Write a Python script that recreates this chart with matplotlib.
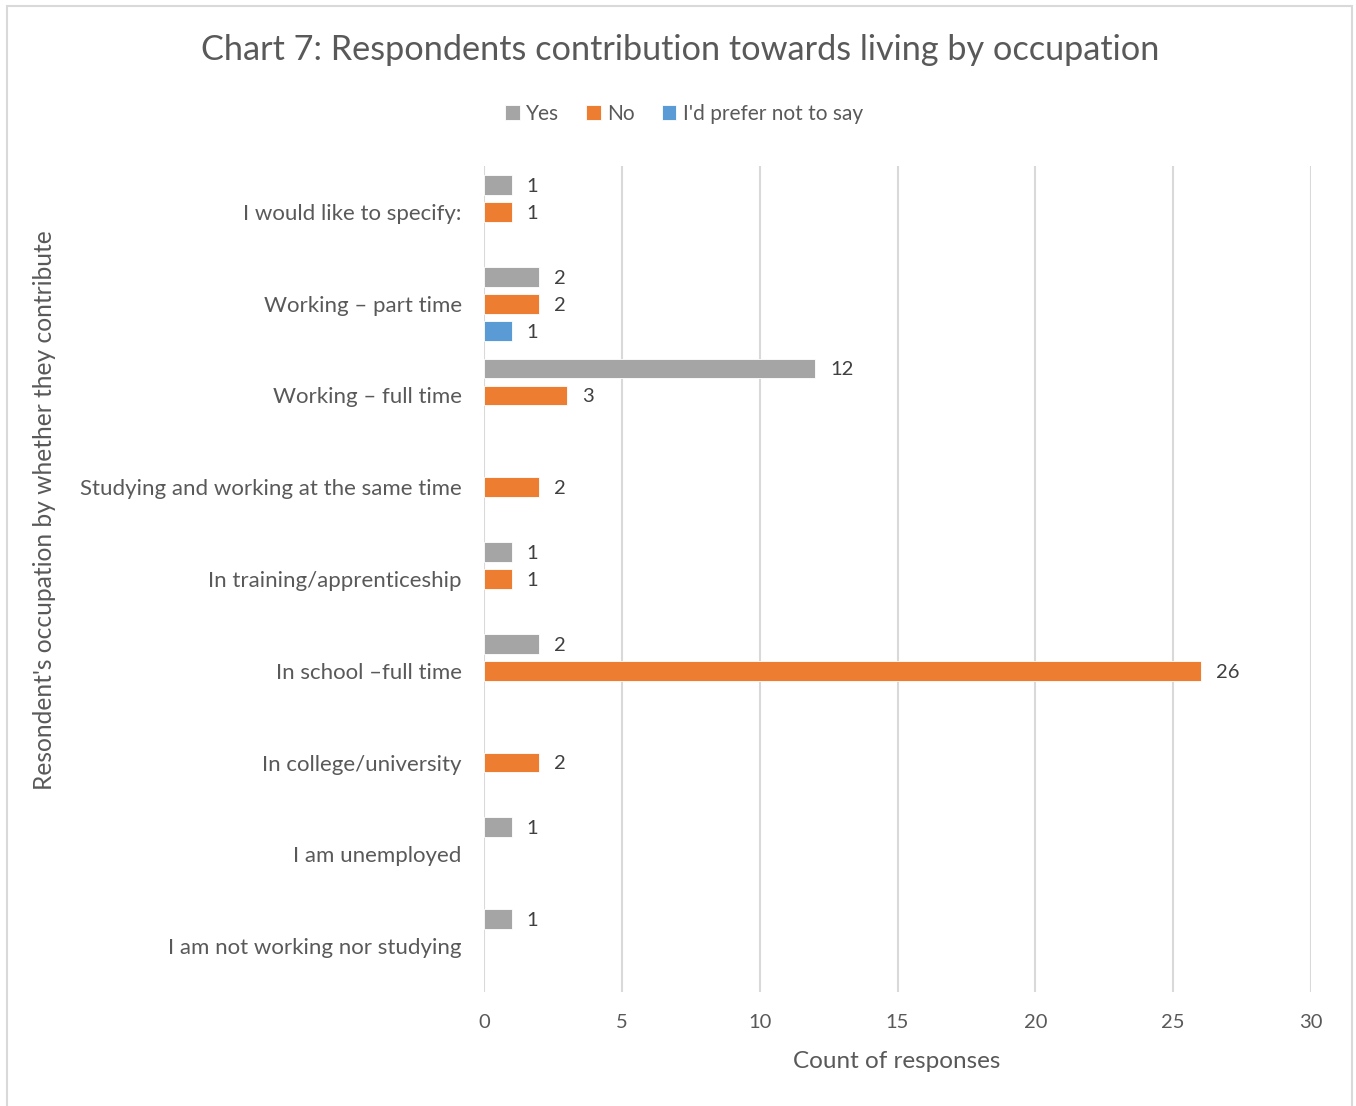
import matplotlib
matplotlib.use("Agg")
import matplotlib.pyplot as plt
from matplotlib.patches import Rectangle
from matplotlib.transforms import offset_copy
import numpy as np

# Categories listed bottom to top
categories = [
    "I am not working nor studying",
    "I am unemployed",
    "In college/university",
    "In school \u2013full time",
    "In training/apprenticeship",
    "Studying and working at the same time",
    "Working \u2013 full time",
    "Working \u2013 part time",
    "I would like to specify:",
]
yes_counts = [1, 1, 0, 2, 1, 0, 12, 2, 1]
no_counts = [0, 0, 2, 26, 1, 2, 3, 2, 1]
prefer_counts = [0, 0, 0, 0, 0, 0, 0, 1, 0]
series_names = ["Yes", "No", "I'd prefer not to say"]
series_colors = ["#A5A5A5", "#ED7D31", "#5B9BD5"]
x_ticks = [0, 5, 10, 15, 20, 25, 30]

plt.rcParams["font.family"] = ["Lato", "DejaVu Sans"]
TEXT = "#595959"

W, H = 1356, 1106
fig = plt.figure(figsize=(W / 100, H / 100), dpi=100)

def fx(px):
    return px / W

def fy(py):
    return 1 - py / H

# outer chart border
fig.patches.append(Rectangle((fx(7), fy(1110)), fx(1352) - fx(7), fy(6) - fy(1110),
                             transform=fig.transFigure, fill=False,
                             edgecolor="#D9D9D9", linewidth=1.5))

ax = fig.add_axes([fx(484), fy(992), fx(1311) - fx(484), fy(166) - fy(992)])

y = np.arange(len(categories))
bar_h = 0.215
offsets = [0.294, 0.0, -0.294]
all_series = [yes_counts, no_counts, prefer_counts]

for vals, off, col, name in zip(all_series, offsets, series_colors, series_names):
    vals = np.array(vals, dtype=float)
    mask = vals > 0
    ax.barh(y[mask] + off, vals[mask], height=bar_h, color=col,
            edgecolor="white", linewidth=0.6, label=name, zorder=3)
    lab_tr = offset_copy(ax.transData, fig=fig, x=11, y=-1, units="points")
    for yi, v in zip(y[mask] + off, vals[mask]):
        ax.text(v, yi, f"{int(v)}", transform=lab_tr, ha="left", va="center",
                fontsize=14.5, color="#404040")

ax.set_xlim(0, 30)
ax.set_ylim(-0.5, len(categories) - 0.5)
ax.set_xticks(x_ticks)
ax.set_xticklabels([str(t) for t in x_ticks], fontsize=14.5, color=TEXT)
ax.set_yticks(y)
ax.set_yticklabels(categories, fontsize=16, color=TEXT)
ax.tick_params(axis="both", length=0)
ax.tick_params(axis="x", pad=16)
ax.tick_params(axis="y", pad=16)
ax.grid(axis="x", color="#D9D9D9", linewidth=1.5, zorder=0)
ax.set_axisbelow(True)
for s in ax.spines.values():
    s.set_visible(False)

fig.text(fx(680), fy(50), "Chart 7: Respondents contribution towards living by occupation",
         ha="center", va="center", fontsize=24.7, color=TEXT)
fig.text(fx(897), fy(1062), "Count of responses", ha="center", va="center",
         fontsize=17.5, color=TEXT)
fig.text(fx(45), fy(510), "Resondent's occupation by whether they contribute",
         ha="center", va="center", rotation=90, fontsize=17.7, color=TEXT)

leg = fig.legend(loc="center", bbox_to_anchor=(fx(684), fy(114)), ncol=3,
                 frameon=False, fontsize=15, handlelength=0.7, handleheight=0.7,
                 handletextpad=0.3, columnspacing=1.3, labelcolor=TEXT)

fig.savefig("out.png", dpi=100)
